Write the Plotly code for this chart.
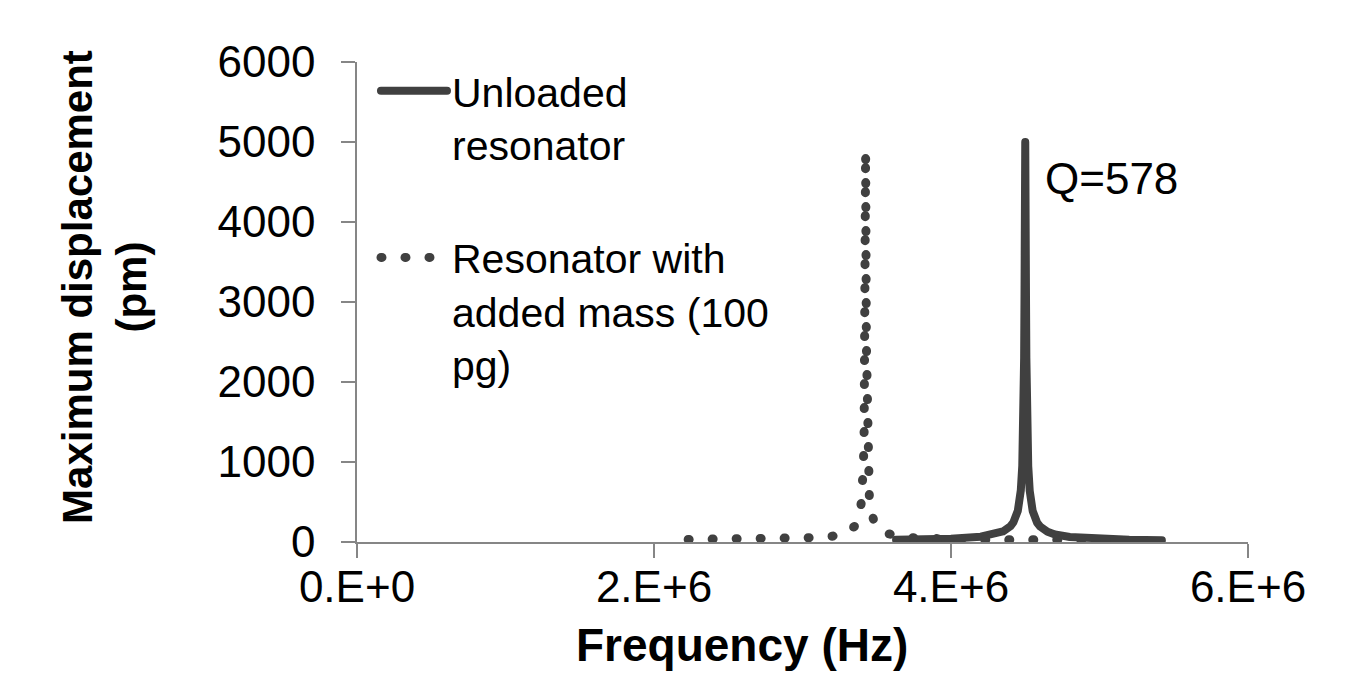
import plotly.graph_objects as go

# ---- data ----
x_tick_vals = [0, 2e6, 4e6, 6e6]
x_tick_text = ["0.E+0", "2.E+6", "4.E+6", "6.E+6"]
y_tick_vals = [0, 1000, 2000, 3000, 4000, 5000, 6000]
y_tick_text = ["0", "1000", "2000", "3000", "4000", "5000", "6000"]

unloaded_name = "Unloaded<br>resonator"
unloaded_freq = [3.63e6, 3.8e6, 4.0e6, 4.2e6, 4.3e6, 4.35e6, 4.4e6, 4.42e6, 4.45e6,
                 4.46e6, 4.47e6, 4.48e6, 4.485e6, 4.49e6, 4.4925e6, 4.495e6, 4.4975e6,
                 4.5e6, 4.5025e6, 4.505e6, 4.5075e6, 4.51e6, 4.515e6, 4.52e6, 4.53e6,
                 4.54e6, 4.55e6, 4.58e6, 4.6e6, 4.65e6, 4.7e6, 4.8e6, 5.0e6, 5.2e6, 5.42e6]
unloaded_disp = [28, 32, 42, 67, 99, 132, 197, 245, 391,
                 486, 645, 952, 1257, 1816, 2305, 3076, 4209,
                 5000, 4200, 3070, 2300, 1810, 1253, 950, 641,
                 483, 387, 241, 193, 128, 95, 63, 38, 28, 22]

loaded_name = "Resonator with<br>added mass (100<br>pg)"
loaded_freq = [2.23e6, 2.4e6, 2.6e6, 2.8e6, 3.0e6, 3.1e6, 3.2e6, 3.25e6, 3.3e6, 3.35e6,
               3.37e6, 3.385e6, 3.395e6, 3.40e6, 3.405e6, 3.41e6, 3.415e6, 3.4175e6,
               3.42e6, 3.4225e6, 3.425e6, 3.4275e6, 3.43e6, 3.4325e6, 3.435e6, 3.44e6,
               3.445e6, 3.45e6, 3.455e6, 3.466e6, 3.48e6, 3.5e6, 3.56e6, 3.7e6, 3.9e6,
               4.1e6, 4.3e6, 4.5e6, 4.8e6, 5.1e6]
loaded_disp = [32, 32, 34, 37, 45, 55, 72, 88, 118, 195,
               265, 363, 482, 580, 717, 947, 1388, 1792,
               2490, 3734, 4880, 3730, 2490, 1790, 1385, 942,
               715, 575, 478, 350, 260, 190, 110, 55, 35,
               30, 28, 28, 28, 28]

q_label = "Q=578"
q_pos = (4.62e6, 4540)

x_title = "Frequency (Hz)"
y_title = "Maximum displacement<br>(pm)"

FONT = "Liberation Sans, Arial, sans-serif"
LINE_COL = "#404040"
AXIS_COL = "#868686"

fig = go.Figure()
fig.add_trace(go.Scatter(
    x=unloaded_freq, y=unloaded_disp, mode="lines", name=unloaded_name,
    line=dict(color=LINE_COL, width=8), legendgroup="a",
))
fig.add_trace(go.Scatter(
    x=loaded_freq, y=loaded_disp, mode="lines", name=loaded_name,
    line=dict(color=LINE_COL, width=9, dash="1px,23px"), legendgroup="b",
))

fig.add_annotation(x=q_pos[0], y=q_pos[1], xref="x", yref="y", text=q_label,
                   showarrow=False, xanchor="left", yanchor="middle",
                   font=dict(family=FONT, size=44, color="black"))
fig.add_annotation(x=0.432, y=-0.215, xref="paper", yref="paper", text="<b>" + x_title + "</b>",
                   showarrow=False, xanchor="center", yanchor="middle",
                   font=dict(family=FONT, size=46, color="black"))
fig.add_annotation(x=-0.283, y=0.531, xref="paper", yref="paper", text="<b>" + y_title + "</b>",
                   showarrow=False, xanchor="center", yanchor="middle", textangle=-90,
                   font=dict(family=FONT, size=42, color="black"))

fig.update_layout(
    width=1367, height=673,
    margin=dict(l=357, r=119, t=62, b=131),
    paper_bgcolor="white", plot_bgcolor="white",
    font=dict(family=FONT, size=43, color="black"),
    showlegend=True,
    legend=dict(x=0.0213, y=1.009, xanchor="left", yanchor="top", maxheight=600,
                bgcolor="rgba(0,0,0,0)", font=dict(family=FONT, size=41, color="black"),
                valign="top", itemwidth=66, tracegroupgap=57, traceorder="grouped"),
    xaxis=dict(range=[0, 6e6], tickvals=x_tick_vals, ticktext=x_tick_text,
               showgrid=False, zeroline=False, showline=True, linecolor=AXIS_COL, linewidth=1.5,
               ticks="outside", ticklen=14, tickcolor=AXIS_COL, tickwidth=1.5,
               ticklabelstandoff=-9,
               tickfont=dict(family=FONT, size=44, color="black")),
    yaxis=dict(range=[0, 6000], tickvals=y_tick_vals, ticktext=y_tick_text,
               showgrid=False, zeroline=False, showline=True, linecolor=AXIS_COL, linewidth=1.5,
               ticks="outside", ticklen=14, tickcolor=AXIS_COL, tickwidth=1.5,
               ticklabelstandoff=17,
               tickfont=dict(family=FONT, size=44, color="black")),
)

post = """
var gd = document.getElementById('{plot_id}');
gd.querySelectorAll('path.js-line').forEach(function(p){
  p.style.strokeLinecap = 'round';
  p.style.strokeLinejoin = 'round';
});
"""
fig.write_html("out.html", post_script=post, config={"responsive": False})
